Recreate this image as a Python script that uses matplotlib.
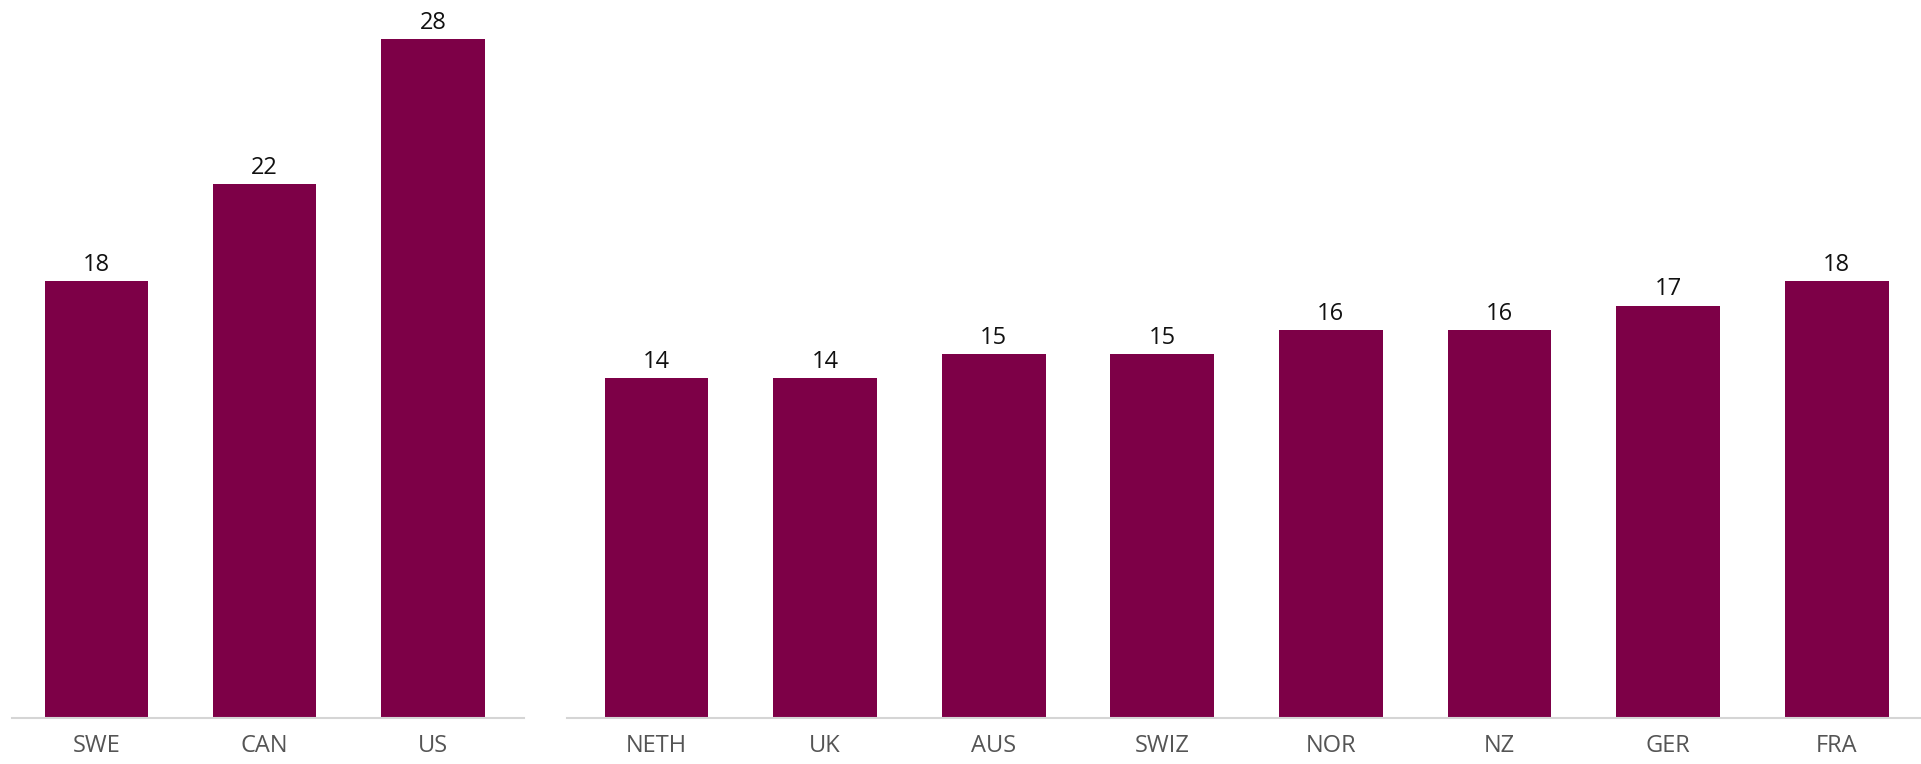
import matplotlib.pyplot as plt

plt.rcParams['font.family'] = ['Open Sans', 'DejaVu Sans']

# Data
left_countries = ['SWE', 'CAN', 'US']
left_values = [18, 22, 28]
right_countries = ['NETH', 'UK', 'AUS', 'SWIZ', 'NOR', 'NZ', 'GER', 'FRA']
right_values = [14, 14, 15, 15, 16, 16, 17, 18]

bar_color = '#7D0047'
axis_color = '#D5D5D5'
tick_color = '#555555'

fig = plt.figure(figsize=(19.21, 7.64), dpi=100)
ax1 = fig.add_axes([0.0063, 0.0605, 0.2665, 0.9395])
ax2 = fig.add_axes([0.2952, 0.0605, 0.7048, 0.9395])


def draw(ax, cats, vals, xlim):
    x = range(len(cats))
    bars = ax.bar(x, vals, width=0.615, color=bar_color)
    ax.bar_label(bars, labels=[str(v) for v in vals], padding=3,
                 fontsize=17, color='#111111')
    ax.set_xticks(list(x))
    ax.set_xticklabels(cats)
    ax.tick_params(axis='x', length=0, pad=12, labelsize=17, labelcolor=tick_color)
    ax.set_yticks([])
    ax.set_xlim(*xlim)
    ax.set_ylim(0, 29.6)
    for s in ['top', 'left', 'right']:
        ax.spines[s].set_visible(False)
    ax.spines['bottom'].set_color(axis_color)
    ax.spines['bottom'].set_linewidth(1.5)


draw(ax1, left_countries, left_values, (-0.5, 2.54))
draw(ax2, right_countries, right_values, (-0.53, 7.5))

plt.savefig('out.png', dpi=100)
plt.close()
